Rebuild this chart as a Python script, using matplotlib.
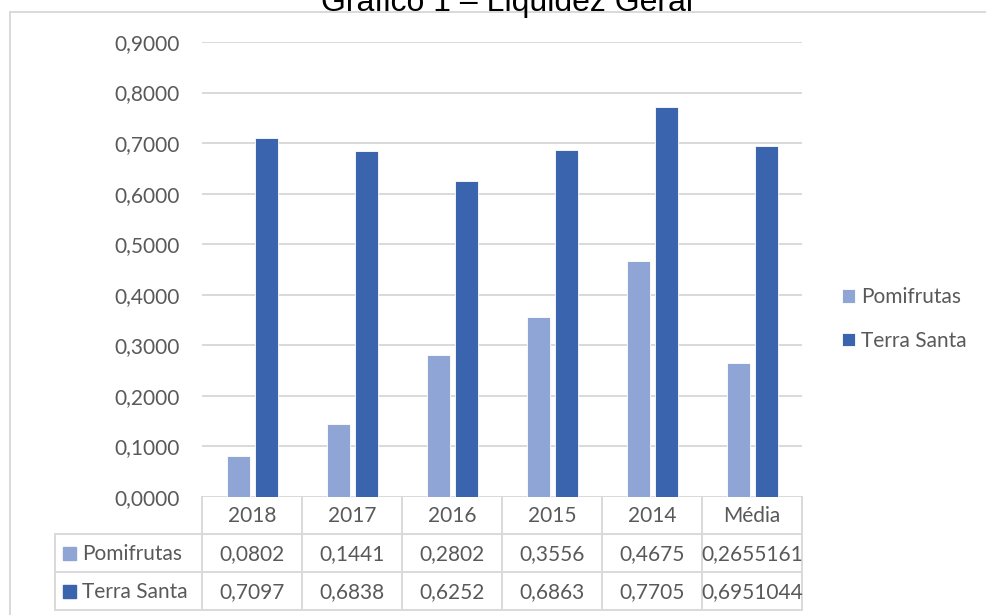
import matplotlib
matplotlib.use("Agg")
import matplotlib.pyplot as plt
from matplotlib.lines import Line2D
from matplotlib.patches import Rectangle
import matplotlib.transforms as mtransforms

categories = ["2018", "2017", "2016", "2015", "2014", "Média"]
pomifrutas = [0.0802, 0.1441, 0.2802, 0.3556, 0.4675, 0.2655161]
terra_santa = [0.7097, 0.6838, 0.6252, 0.6863, 0.7705, 0.6951044]
series_names = ["Pomifrutas", "Terra Santa"]
yticks = [0.0, 0.1, 0.2, 0.3, 0.4, 0.5, 0.6, 0.7, 0.8, 0.9]
title = "Gráfico 1 – Liquidez Geral"

C_LIGHT = "#8FA5D5"
C_DARK = "#3A64AE"
GRID = "#D9D9D9"
TXT = "#595959"
FONT = "Lato"
FS = 15

W, H = 986, 615
fig = plt.figure(figsize=(W / 100, H / 100), dpi=100)
fig.patch.set_facecolor("white")

def fx(px):
    return px / W

def fy(py):
    return 1 - py / H

ax = fig.add_axes([fx(202), fy(497), fx(802) - fx(202), fy(42) - fy(497)])
n = len(categories)
xs = list(range(n))
bw = 0.23
b1 = ax.bar([x - 0.14 for x in xs], pomifrutas, width=bw, color=C_LIGHT,
            edgecolor="white", linewidth=0.6, zorder=3, label=series_names[0])
b2 = ax.bar([x + 0.145 for x in xs], terra_santa, width=bw, color=C_DARK,
            edgecolor="white", linewidth=0.6, zorder=3, label=series_names[1])
ax.set_xlim(-0.5, n - 0.5)
ax.set_ylim(0, 0.9)
ax.set_yticks(yticks)
ax.set_yticklabels([f"{v:.4f}".replace(".", ",") for v in yticks],
                   fontsize=FS, color=TXT, family=FONT)
ax.tick_params(axis="y", length=0, pad=16)
ax.set_xticks([])
for s in ax.spines.values():
    s.set_visible(False)
ax.yaxis.grid(True, color=GRID, linewidth=1.4, zorder=0)
ax.set_axisbelow(True)

# legend
leg = ax.legend(handles=[b1, b2], loc="center left",
                bbox_to_anchor=(fx(823), fy(319)), bbox_transform=fig.transFigure,
                frameon=False, prop={"family": FONT, "size": FS},
                handlelength=0.62, handleheight=0.62, handletextpad=0.3,
                labelspacing=1.12)
for t in leg.get_texts():
    t.set_color(TXT)

# title (partly cut at top, as in the source image)
fig.text(fx(507), fy(10.5), title, ha="center", va="baseline",
         fontsize=23, family="Liberation Sans", color="black")

# chart frame (top and left edges)
fig.add_artist(Line2D([fx(10), fx(986)], [fy(12), fy(12)], color=GRID, lw=1.4,
                      transform=fig.transFigure))
fig.add_artist(Line2D([fx(10), fx(10)], [fy(12), fy(615)], color=GRID, lw=1.4,
                      transform=fig.transFigure))

# data table
blend = mtransforms.blended_transform_factory(ax.transData, fig.transFigure)
y_top, y_h, y_r1, y_r2 = 497, 534, 572, 610
lk = dict(color=GRID, lw=1.4, clip_on=False)
for i in range(n + 1):
    fig.add_artist(Line2D([i - 0.5, i - 0.5], [fy(y_top), fy(y_r2)], transform=blend, **lk))
fig.add_artist(Line2D([fx(55), fx(55)], [fy(y_h), fy(y_r2)], transform=fig.transFigure, **lk))
for yy in (y_h, y_r1, y_r2):
    fig.add_artist(Line2D([fx(55), fx(802)], [fy(yy), fy(yy)], transform=fig.transFigure, **lk))

tk = dict(ha="center", va="center", fontsize=FS, family=FONT, color=TXT)
for i, c in enumerate(categories):
    fig.text(i, fy((y_top + y_h) / 2 + 1), c, transform=blend, **tk)
    fig.text(i, fy((y_h + y_r1) / 2 + 1), str(pomifrutas[i]).replace(".", ","), transform=blend, **tk)
    fig.text(i, fy((y_r1 + y_r2) / 2 + 1), str(terra_santa[i]).replace(".", ","), transform=blend, **tk)

for name, col, (ya, yb) in zip(series_names, [C_LIGHT, C_DARK], [(y_h, y_r1), (y_r1, y_r2)]):
    yc = (ya + yb) / 2
    fig.add_artist(Rectangle((fx(63), fy(yc + 6.5)), fx(13), fy(0) - fy(13),
                             transform=fig.transFigure, color=col))
    fig.text(fx(82), fy(yc + 1), name, ha="left", va="center",
             fontsize=FS, family=FONT, color=TXT)

fig.savefig("out.png", dpi=100, facecolor="white")
